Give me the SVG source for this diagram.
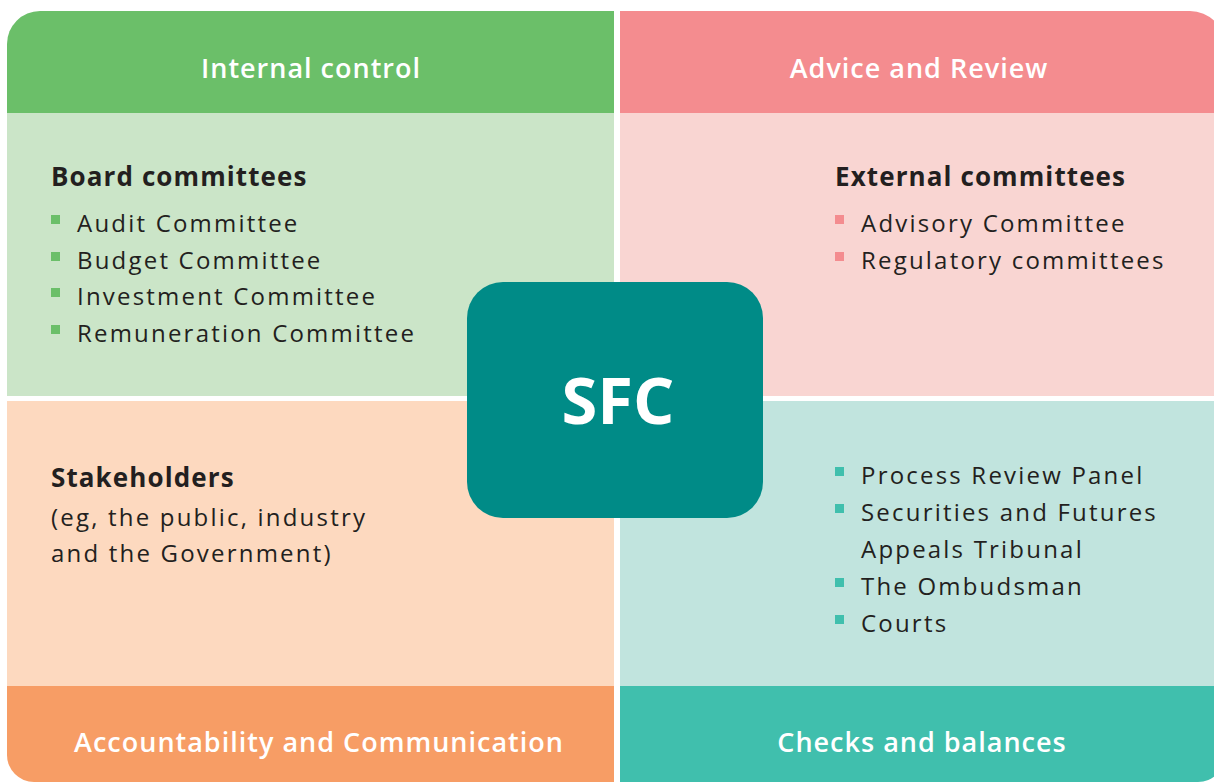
<svg xmlns="http://www.w3.org/2000/svg" width="1214" height="782" viewBox="0 0 1214 782">
  <style>
    .hdr { font-family: "Open Sans", "Noto Sans", sans-serif; font-weight: 600; font-size: 27px; fill: #ffffff; text-anchor: middle; letter-spacing: 1px; }
    .ttl { font-family: "Open Sans", "Noto Sans", sans-serif; font-weight: 700; font-size: 26px; fill: #231f20; letter-spacing: 1.1px; }
    .itm { font-family: "Open Sans", "Noto Sans", sans-serif; font-size: 24px; fill: #231f20; letter-spacing: 2.2px; }
    .sfc { font-family: "Open Sans", "Noto Sans", sans-serif; font-weight: 700; font-size: 65px; fill: #ffffff; text-anchor: middle; }
  </style>
  <rect width="1214" height="782" fill="#ffffff"/>

  <!-- Internal control (top left) -->
  <g id="internal-control">
    <path d="M7,113 V44 A33,33 0 0 1 40,11 H614 V113 Z" fill="#6bbf69"/>
    <rect x="7" y="113" width="607" height="283" fill="#cbe5c8"/>
    <text class="hdr" x="311" y="78">Internal control</text>
    <text class="ttl" x="51" y="186">Board committees</text>
    <g fill="#6bbf69">
      <rect x="51" y="215" width="9" height="9"/>
      <rect x="51" y="252" width="9" height="9"/>
      <rect x="51" y="288" width="9" height="9"/>
      <rect x="51" y="325" width="9" height="9"/>
    </g>
    <text class="itm" x="77" y="232">Audit Committee</text>
    <text class="itm" x="77" y="269">Budget Committee</text>
    <text class="itm" x="77" y="305">Investment Committee</text>
    <text class="itm" x="77" y="342">Remuneration Committee</text>
  </g>

  <!-- Advice and Review (top right) -->
  <g id="advice-review">
    <path d="M620,11 H1190 A35,35 0 0 1 1225,46 V113 H620 Z" fill="#f48c8f"/>
    <rect x="620" y="113" width="605" height="283" fill="#f9d5d2"/>
    <text class="hdr" x="919" y="78">Advice and Review</text>
    <text class="ttl" x="835" y="186">External committees</text>
    <g fill="#f48c8f">
      <rect x="835" y="215" width="9" height="9"/>
      <rect x="835" y="252" width="9" height="9"/>
    </g>
    <text class="itm" x="861" y="232">Advisory Committee</text>
    <text class="itm" x="861" y="269">Regulatory committees</text>
  </g>

  <!-- Accountability and Communication (bottom left) -->
  <g id="accountability">
    <rect x="7" y="401" width="607" height="285" fill="#fdd9bf"/>
    <path d="M7,686 H614 V782 H34 A27,27 0 0 1 7,755 Z" fill="#f79d65"/>
    <text class="hdr" x="319" y="752">Accountability and Communication</text>
    <text class="ttl" x="51" y="487">Stakeholders</text>
    <text class="itm" x="51" y="526">(eg, the public, industry</text>
    <text class="itm" x="51" y="562">and the Government)</text>
  </g>

  <!-- Checks and balances (bottom right) -->
  <g id="checks-balances">
    <rect x="620" y="401" width="605" height="285" fill="#c1e4de"/>
    <path d="M620,686 H1225 V755 A27,27 0 0 1 1198,782 H620 Z" fill="#40bfad"/>
    <text class="hdr" x="922" y="752">Checks and balances</text>
    <g fill="#40bfad">
      <rect x="835" y="467" width="9" height="9"/>
      <rect x="835" y="504" width="9" height="9"/>
      <rect x="835" y="578" width="9" height="9"/>
      <rect x="835" y="615" width="9" height="9"/>
    </g>
    <text class="itm" x="861" y="484">Process Review Panel</text>
    <text class="itm" x="861" y="521">Securities and Futures</text>
    <text class="itm" x="861" y="558">Appeals Tribunal</text>
    <text class="itm" x="861" y="595">The Ombudsman</text>
    <text class="itm" x="861" y="632">Courts</text>
  </g>

  <!-- Central node -->
  <g id="sfc">
    <rect x="467" y="282" width="296" height="236" rx="36" ry="36" fill="#008b87"/>
    <text class="sfc" x="618" y="424">SFC</text>
  </g>

  <g id="connectors"/>
</svg>
